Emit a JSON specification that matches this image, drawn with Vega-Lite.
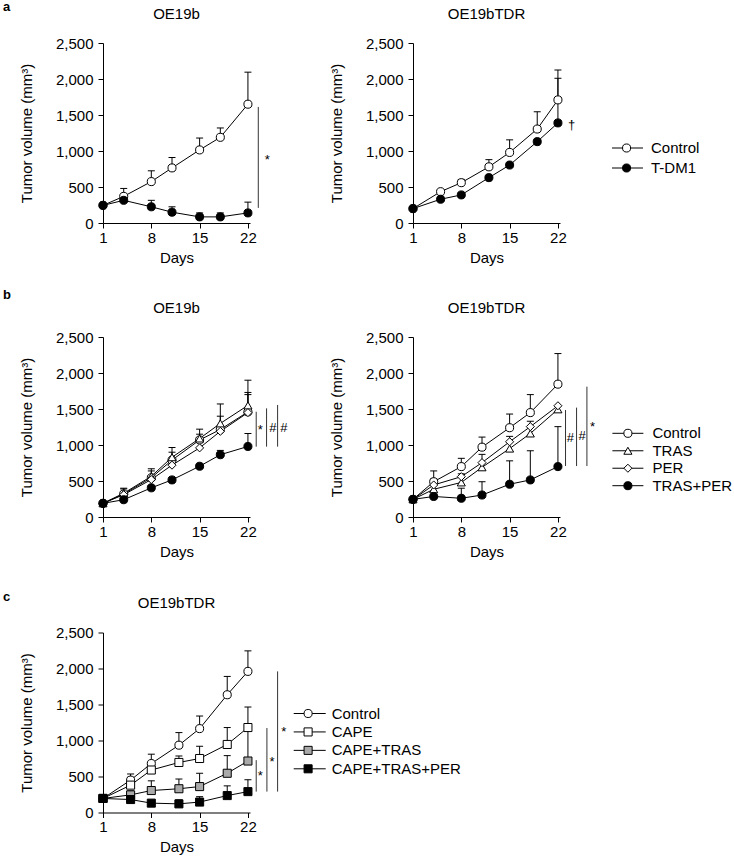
{
"$schema":"https://vega.github.io/schema/vega-lite/v6.json",
"padding":{"left":3,"top":0,"right":0,"bottom":0},
"background":"white",
"config":{
 "view":{"stroke":null},
 "font":"Liberation Sans",
 "axis":{"domainColor":"black","tickColor":"black","labelColor":"black","titleColor":"black","labelFont":"Liberation Sans","titleFont":"Liberation Sans","labelFontSize":15,"titleFontSize":15,"titleFontWeight":"normal","grid":false,"tickSize":5,"domainWidth":1,"tickWidth":1,"labelFlush":false,"labelOverlap":false},
 "axisX":{"labelPadding":2,"titlePadding":5},
 "axisY":{"labelPadding":5,"titlePadding":20.5},
 "title":{"font":"Liberation Sans","fontSize":15,"fontWeight":"normal","color":"black","offset":14.3},
 "text":{"font":"Liberation Sans"}
},
"datasets":{
 "tumor":[
  {"p":"a1","g":"Control","d":1,"m":245},{"p":"a1","g":"Control","d":4,"m":370,"u":480},{"p":"a1","g":"Control","d":8,"m":575,"u":725},{"p":"a1","g":"Control","d":11,"m":765,"u":910},{"p":"a1","g":"Control","d":15,"m":1015,"u":1180},{"p":"a1","g":"Control","d":18,"m":1190,"u":1320},{"p":"a1","g":"Control","d":22,"m":1650,"u":2095},
  {"p":"a1","g":"T-DM1","d":1,"m":245},{"p":"a1","g":"T-DM1","d":4,"m":315},{"p":"a1","g":"T-DM1","d":8,"m":225,"u":315},{"p":"a1","g":"T-DM1","d":11,"m":150,"u":225},{"p":"a1","g":"T-DM1","d":15,"m":85,"u":140},{"p":"a1","g":"T-DM1","d":18,"m":85,"u":140},{"p":"a1","g":"T-DM1","d":22,"m":140,"u":290},
  {"p":"a2","g":"Control","d":1,"m":200},{"p":"a2","g":"Control","d":5,"m":435},{"p":"a2","g":"Control","d":8,"m":560,"u":605},{"p":"a2","g":"Control","d":12,"m":780,"u":880},{"p":"a2","g":"Control","d":15,"m":980,"u":1155},{"p":"a2","g":"Control","d":19,"m":1305,"u":1545},{"p":"a2","g":"Control","d":22,"m":1710,"u":2125},
  {"p":"a2","g":"T-DM1","d":1,"m":200},{"p":"a2","g":"T-DM1","d":5,"m":330},{"p":"a2","g":"T-DM1","d":8,"m":390},{"p":"a2","g":"T-DM1","d":12,"m":630},{"p":"a2","g":"T-DM1","d":15,"m":805},{"p":"a2","g":"T-DM1","d":19,"m":1130},{"p":"a2","g":"T-DM1","d":22,"m":1390,"u":2010},
  {"p":"b1","g":"Control","d":1,"m":190},{"p":"b1","g":"Control","d":4,"m":320,"u":400},{"p":"b1","g":"Control","d":8,"m":545,"u":670},{"p":"b1","g":"Control","d":11,"m":790,"u":965},{"p":"b1","g":"Control","d":15,"m":1070,"u":1220},{"p":"b1","g":"Control","d":18,"m":1215,"u":1400},{"p":"b1","g":"Control","d":22,"m":1460,"u":1700},
  {"p":"b1","g":"TRAS","d":1,"m":190},{"p":"b1","g":"TRAS","d":4,"m":330,"u":390},{"p":"b1","g":"TRAS","d":8,"m":565,"u":640},{"p":"b1","g":"TRAS","d":11,"m":830,"u":900},{"p":"b1","g":"TRAS","d":15,"m":1090,"u":1150},{"p":"b1","g":"TRAS","d":18,"m":1300,"u":1570},{"p":"b1","g":"TRAS","d":22,"m":1550,"u":1900},
  {"p":"b1","g":"PER","d":1,"m":190},{"p":"b1","g":"PER","d":4,"m":310},{"p":"b1","g":"PER","d":8,"m":520},{"p":"b1","g":"PER","d":11,"m":720},{"p":"b1","g":"PER","d":15,"m":960},{"p":"b1","g":"PER","d":18,"m":1190},{"p":"b1","g":"PER","d":22,"m":1450,"u":1730},
  {"p":"b1","g":"TRAS+PER","d":1,"m":190},{"p":"b1","g":"TRAS+PER","d":4,"m":240},{"p":"b1","g":"TRAS+PER","d":8,"m":405},{"p":"b1","g":"TRAS+PER","d":11,"m":515},{"p":"b1","g":"TRAS+PER","d":15,"m":705},{"p":"b1","g":"TRAS+PER","d":18,"m":865,"u":925},{"p":"b1","g":"TRAS+PER","d":22,"m":980,"u":1160},
  {"p":"b2","g":"Control","d":1,"m":245},{"p":"b2","g":"Control","d":4,"m":490,"u":640},{"p":"b2","g":"Control","d":8,"m":700,"u":815},{"p":"b2","g":"Control","d":11,"m":970,"u":1110},{"p":"b2","g":"Control","d":15,"m":1240,"u":1430},{"p":"b2","g":"Control","d":18,"m":1450,"u":1700},{"p":"b2","g":"Control","d":22,"m":1845,"u":2270},
  {"p":"b2","g":"TRAS","d":1,"m":245},{"p":"b2","g":"TRAS","d":4,"m":385,"u":530},{"p":"b2","g":"TRAS","d":8,"m":480,"u":600},{"p":"b2","g":"TRAS","d":11,"m":690,"u":870},{"p":"b2","g":"TRAS","d":15,"m":950,"u":1120},{"p":"b2","g":"TRAS","d":18,"m":1160,"u":1330},{"p":"b2","g":"TRAS","d":22,"m":1495},
  {"p":"b2","g":"PER","d":1,"m":245},{"p":"b2","g":"PER","d":4,"m":445},{"p":"b2","g":"PER","d":8,"m":560},{"p":"b2","g":"PER","d":11,"m":755},{"p":"b2","g":"PER","d":15,"m":1045},{"p":"b2","g":"PER","d":18,"m":1255},{"p":"b2","g":"PER","d":22,"m":1545},
  {"p":"b2","g":"TRAS+PER","d":1,"m":245},{"p":"b2","g":"TRAS+PER","d":4,"m":285},{"p":"b2","g":"TRAS+PER","d":8,"m":260,"u":400},{"p":"b2","g":"TRAS+PER","d":11,"m":305,"u":490},{"p":"b2","g":"TRAS+PER","d":15,"m":455,"u":780},{"p":"b2","g":"TRAS+PER","d":18,"m":515,"u":920},{"p":"b2","g":"TRAS+PER","d":22,"m":700,"u":1255},
  {"p":"c","g":"Control","d":1,"m":195},{"p":"c","g":"Control","d":5,"m":450,"u":535},{"p":"c","g":"Control","d":8,"m":680,"u":810},{"p":"c","g":"Control","d":12,"m":935,"u":1110},{"p":"c","g":"Control","d":15,"m":1165,"u":1340},{"p":"c","g":"Control","d":19,"m":1635,"u":1890},{"p":"c","g":"Control","d":22,"m":1960,"u":2245},
  {"p":"c","g":"CAPE","d":1,"m":195},{"p":"c","g":"CAPE","d":5,"m":380,"u":490},{"p":"c","g":"CAPE","d":8,"m":590,"u":680},{"p":"c","g":"CAPE","d":12,"m":695,"u":785},{"p":"c","g":"CAPE","d":15,"m":750,"u":920},{"p":"c","g":"CAPE","d":19,"m":945,"u":1180},{"p":"c","g":"CAPE","d":22,"m":1180,"u":1465},
  {"p":"c","g":"CAPE+TRAS","d":1,"m":195},{"p":"c","g":"CAPE+TRAS","d":5,"m":245,"u":300},{"p":"c","g":"CAPE+TRAS","d":8,"m":305,"u":440},{"p":"c","g":"CAPE+TRAS","d":12,"m":330,"u":465},{"p":"c","g":"CAPE+TRAS","d":15,"m":360,"u":545},{"p":"c","g":"CAPE+TRAS","d":19,"m":545,"u":790},{"p":"c","g":"CAPE+TRAS","d":22,"m":715,"u":1180},
  {"p":"c","g":"CAPE+TRAS+PER","d":1,"m":195},{"p":"c","g":"CAPE+TRAS+PER","d":5,"m":180},{"p":"c","g":"CAPE+TRAS+PER","d":8,"m":130},{"p":"c","g":"CAPE+TRAS+PER","d":12,"m":120,"u":175},{"p":"c","g":"CAPE+TRAS+PER","d":15,"m":145,"u":220},{"p":"c","g":"CAPE+TRAS+PER","d":19,"m":235,"u":370},{"p":"c","g":"CAPE+TRAS+PER","d":22,"m":290,"u":455}
 ],
 "sig":[
  {"p":"a1","d":23.5,"y":210,"y2":1612},
  {"p":"b1","d":23.2,"y":977,"y2":1462},{"p":"b1","d":24.7,"y":977,"y2":1509},{"p":"b1","d":26.3,"y":977,"y2":1556},
  {"p":"b2","d":23.1,"y":708,"y2":1486},{"p":"b2","d":24.7,"y":708,"y2":1519},{"p":"b2","d":26.2,"y":708,"y2":1810},
  {"p":"c","d":23.2,"y":290,"y2":727},{"p":"c","d":24.75,"y":290,"y2":1173},{"p":"c","d":26.3,"y":290,"y2":1960}
 ],
 "siglab":[
  {"p":"a1","d":24.8,"y":874,"t":"*"},
  {"p":"a2","d":24.0,"y":1355,"t":"†"},
  {"p":"b1","d":23.8,"y":1208,"t":"*"},{"p":"b1","d":25.6,"y":1232,"t":"#"},{"p":"b1","d":27.2,"y":1232,"t":"#"},
  {"p":"b2","d":23.8,"y":1093,"t":"#"},{"p":"b2","d":25.5,"y":1120,"t":"#"},{"p":"b2","d":27.0,"y":1245,"t":"*"},
  {"p":"c","d":23.8,"y":511,"t":"*"},{"p":"c","d":25.5,"y":695,"t":"*"},{"p":"c","d":27.2,"y":1118,"t":"*"}
 ]
},
"spacing":31.5,
"vconcat":[
 {"spacing":23,
  "vconcat":[
 {"title":{"text":"a","anchor":"start","frame":"group","fontWeight":"bold","fontSize":13,"dx":-100,"offset":-6.8},
  "bounds":"flush","spacing":163,
  "hconcat":[
   {"width":147,"height":180,"title":"OE19b",
    "layer":[
     {"data":{"name":"tumor"},"transform":[{"filter":"datum.p==='a1' && isValid(datum.u)"}],"mark":{"type":"rule","color":"black","strokeWidth":1},
      "encoding":{"x":{"field":"d","type":"quantitative","scale":{"domain":[1,22.3],"nice":false,"zero":false},"axis":{"values":[1,8,15,22],"title":"Days"}},"y":{"field":"m","type":"quantitative","scale":{"domain":[0,2500],"nice":false},"axis":{"values":[0,500,1000,1500,2000,2500],"format":",d","title":"Tumor volume (mm³)"}},"y2":{"field":"u"}}},
     {"data":{"name":"tumor"},"transform":[{"filter":"datum.p==='a1' && isValid(datum.u)"}],"mark":{"type":"tick","orient":"horizontal","color":"black","size":7,"thickness":1,"opacity":1},
      "encoding":{"x":{"field":"d","type":"quantitative","axis":{"values":[1,8,15,22],"title":"Days"}},"y":{"field":"u","type":"quantitative","axis":{"values":[0,500,1000,1500,2000,2500],"format":",d","title":"Tumor volume (mm³)"}}}},
     {"data":{"name":"tumor"},"transform":[{"filter":"datum.p==='a1'"}],"mark":{"type":"line","color":"black","strokeWidth":1},
      "encoding":{"x":{"field":"d","type":"quantitative","axis":{"values":[1,8,15,22],"title":"Days"}},"y":{"field":"m","type":"quantitative","axis":{"values":[0,500,1000,1500,2000,2500],"format":",d","title":"Tumor volume (mm³)"}},"detail":{"field":"g"},"order":{"field":"d"}}},
     {"data":{"name":"tumor"},"transform":[{"filter":"datum.p==='a1'"}],"mark":{"type":"point","stroke":"black","strokeWidth":1,"opacity":1,"size":65},
      "encoding":{"x":{"field":"d","type":"quantitative","axis":{"values":[1,8,15,22],"title":"Days"}},"y":{"field":"m","type":"quantitative","axis":{"values":[0,500,1000,1500,2000,2500],"format":",d","title":"Tumor volume (mm³)"}},
       "shape":{"field":"g","type":"nominal","legend":null,"scale":{"domain":["Control","T-DM1","TRAS","PER","TRAS+PER","CAPE","CAPE+TRAS","CAPE+TRAS+PER"],"range":["circle","circle","triangle-up","diamond","circle","square","square","square"]}},
       "fill":{"field":"g","type":"nominal","legend":null,"scale":{"domain":["Control","T-DM1","TRAS","PER","TRAS+PER","CAPE","CAPE+TRAS","CAPE+TRAS+PER"],"range":["white","black","white","white","black","white","#a9a9a9","black"]}}}},
     {"data":{"name":"sig"},"transform":[{"filter":"datum.p==='a1'"}],"mark":{"type":"rule","color":"#333","strokeWidth":1},
      "encoding":{"x":{"field":"d","type":"quantitative","axis":{"values":[1,8,15,22],"title":"Days"}},"y":{"field":"y","type":"quantitative","axis":{"values":[0,500,1000,1500,2000,2500],"format":",d","title":"Tumor volume (mm³)"}},"y2":{"field":"y2"}}},
     {"data":{"name":"siglab"},"transform":[{"filter":"datum.p==='a1'"}],"mark":{"type":"text","fontSize":13,"baseline":"middle","align":"center","color":"black"},
      "encoding":{"x":{"field":"d","type":"quantitative","axis":{"values":[1,8,15,22],"title":"Days"}},"y":{"field":"y","type":"quantitative","axis":{"values":[0,500,1000,1500,2000,2500],"format":",d","title":"Tumor volume (mm³)"}},"text":{"field":"t"}}}
    ]},
   {"bounds":"flush","spacing":52,
    "hconcat":[
     {"width":147,"height":180,"title":"OE19bTDR",
      "layer":[
       {"data":{"name":"tumor"},"transform":[{"filter":"datum.p==='a2' && isValid(datum.u)"}],"mark":{"type":"rule","color":"black","strokeWidth":1},
        "encoding":{"x":{"field":"d","type":"quantitative","scale":{"domain":[1,22.3],"nice":false,"zero":false},"axis":{"values":[1,8,15,22],"title":"Days"}},"y":{"field":"m","type":"quantitative","scale":{"domain":[0,2500],"nice":false},"axis":{"values":[0,500,1000,1500,2000,2500],"format":",d","title":"Tumor volume (mm³)"}},"y2":{"field":"u"}}},
       {"data":{"name":"tumor"},"transform":[{"filter":"datum.p==='a2' && isValid(datum.u)"}],"mark":{"type":"tick","orient":"horizontal","color":"black","size":7,"thickness":1,"opacity":1},
        "encoding":{"x":{"field":"d","type":"quantitative","axis":{"values":[1,8,15,22],"title":"Days"}},"y":{"field":"u","type":"quantitative","axis":{"values":[0,500,1000,1500,2000,2500],"format":",d","title":"Tumor volume (mm³)"}}}},
       {"data":{"name":"tumor"},"transform":[{"filter":"datum.p==='a2'"}],"mark":{"type":"line","color":"black","strokeWidth":1},
        "encoding":{"x":{"field":"d","type":"quantitative","axis":{"values":[1,8,15,22],"title":"Days"}},"y":{"field":"m","type":"quantitative","axis":{"values":[0,500,1000,1500,2000,2500],"format":",d","title":"Tumor volume (mm³)"}},"detail":{"field":"g"},"order":{"field":"d"}}},
       {"data":{"name":"tumor"},"transform":[{"filter":"datum.p==='a2'"}],"mark":{"type":"point","stroke":"black","strokeWidth":1,"opacity":1,"size":65},
        "encoding":{"x":{"field":"d","type":"quantitative","axis":{"values":[1,8,15,22],"title":"Days"}},"y":{"field":"m","type":"quantitative","axis":{"values":[0,500,1000,1500,2000,2500],"format":",d","title":"Tumor volume (mm³)"}},
         "shape":{"field":"g","type":"nominal","legend":null,"scale":{"domain":["Control","T-DM1","TRAS","PER","TRAS+PER","CAPE","CAPE+TRAS","CAPE+TRAS+PER"],"range":["circle","circle","triangle-up","diamond","circle","square","square","square"]}},
         "fill":{"field":"g","type":"nominal","legend":null,"scale":{"domain":["Control","T-DM1","TRAS","PER","TRAS+PER","CAPE","CAPE+TRAS","CAPE+TRAS+PER"],"range":["white","black","white","white","black","white","#a9a9a9","black"]}}}},
       {"data":{"name":"siglab"},"transform":[{"filter":"datum.p==='a2'"}],"mark":{"type":"text","fontSize":13,"baseline":"middle","align":"center","color":"black"},
        "encoding":{"x":{"field":"d","type":"quantitative","axis":{"values":[1,8,15,22],"title":"Days"}},"y":{"field":"y","type":"quantitative","axis":{"values":[0,500,1000,1500,2000,2500],"format":",d","title":"Tumor volume (mm³)"}},"text":{"field":"t"}}}
      ]},
     {"width":31,"height":180,
      "data":{"values":[{"g":"Control"},{"g":"T-DM1"}]},
      "layer":[
       {"mark":{"type":"rule","color":"black","strokeWidth":1},
        "encoding":{"x":{"datum":0,"type":"quantitative","scale":{"domain":[0,1]},"axis":null},"x2":{"datum":1},"y":{"field":"g","type":"nominal","scale":{"type":"point","padding":0,"domain":["Control","T-DM1"],"range":[105,125]},"axis":null}}},
       {"mark":{"type":"point","stroke":"black","strokeWidth":1,"opacity":1,"size":65},
        "encoding":{"x":{"datum":0.47,"type":"quantitative"},"y":{"field":"g","type":"nominal"},
         "shape":{"field":"g","type":"nominal","legend":null,"scale":{"domain":["Control","T-DM1","TRAS","PER","TRAS+PER","CAPE","CAPE+TRAS","CAPE+TRAS+PER"],"range":["circle","circle","triangle-up","diamond","circle","square","square","square"]}},
         "fill":{"field":"g","type":"nominal","legend":null,"scale":{"domain":["Control","T-DM1","TRAS","PER","TRAS+PER","CAPE","CAPE+TRAS","CAPE+TRAS+PER"],"range":["white","black","white","white","black","white","#a9a9a9","black"]}}}},
       {"mark":{"type":"text","align":"left","baseline":"middle","dx":8,"fontSize":15,"color":"black"},
        "encoding":{"x":{"datum":1,"type":"quantitative"},"y":{"field":"g","type":"nominal"},"text":{"field":"g"}}}
      ]}
    ]}
  ]},
 {"title":{"text":"b","anchor":"start","frame":"group","fontWeight":"bold","fontSize":13,"dx":-100,"offset":-0.8},
  "bounds":"flush","spacing":163,
  "hconcat":[
   {"width":147,"height":180,"title":"OE19b",
    "layer":[
     {"data":{"name":"tumor"},"transform":[{"filter":"datum.p==='b1' && isValid(datum.u)"}],"mark":{"type":"rule","color":"black","strokeWidth":1},
      "encoding":{"x":{"field":"d","type":"quantitative","scale":{"domain":[1,22.3],"nice":false,"zero":false},"axis":{"values":[1,8,15,22],"title":"Days"}},"y":{"field":"m","type":"quantitative","scale":{"domain":[0,2500],"nice":false},"axis":{"values":[0,500,1000,1500,2000,2500],"format":",d","title":"Tumor volume (mm³)"}},"y2":{"field":"u"}}},
     {"data":{"name":"tumor"},"transform":[{"filter":"datum.p==='b1' && isValid(datum.u)"}],"mark":{"type":"tick","orient":"horizontal","color":"black","size":7,"thickness":1,"opacity":1},
      "encoding":{"x":{"field":"d","type":"quantitative","axis":{"values":[1,8,15,22],"title":"Days"}},"y":{"field":"u","type":"quantitative","axis":{"values":[0,500,1000,1500,2000,2500],"format":",d","title":"Tumor volume (mm³)"}}}},
     {"data":{"name":"tumor"},"transform":[{"filter":"datum.p==='b1'"}],"mark":{"type":"line","color":"black","strokeWidth":1},
      "encoding":{"x":{"field":"d","type":"quantitative","axis":{"values":[1,8,15,22],"title":"Days"}},"y":{"field":"m","type":"quantitative","axis":{"values":[0,500,1000,1500,2000,2500],"format":",d","title":"Tumor volume (mm³)"}},"detail":{"field":"g"},"order":{"field":"d"}}},
     {"data":{"name":"tumor"},"transform":[{"filter":"datum.p==='b1'"}],"mark":{"type":"point","stroke":"black","strokeWidth":1,"opacity":1,"size":65},
      "encoding":{"x":{"field":"d","type":"quantitative","axis":{"values":[1,8,15,22],"title":"Days"}},"y":{"field":"m","type":"quantitative","axis":{"values":[0,500,1000,1500,2000,2500],"format":",d","title":"Tumor volume (mm³)"}},
       "shape":{"field":"g","type":"nominal","legend":null,"scale":{"domain":["Control","T-DM1","TRAS","PER","TRAS+PER","CAPE","CAPE+TRAS","CAPE+TRAS+PER"],"range":["circle","circle","triangle-up","diamond","circle","square","square","square"]}},
       "fill":{"field":"g","type":"nominal","legend":null,"scale":{"domain":["Control","T-DM1","TRAS","PER","TRAS+PER","CAPE","CAPE+TRAS","CAPE+TRAS+PER"],"range":["white","black","white","white","black","white","#a9a9a9","black"]}}}},
     {"data":{"name":"sig"},"transform":[{"filter":"datum.p==='b1'"}],"mark":{"type":"rule","color":"#333","strokeWidth":1},
      "encoding":{"x":{"field":"d","type":"quantitative","axis":{"values":[1,8,15,22],"title":"Days"}},"y":{"field":"y","type":"quantitative","axis":{"values":[0,500,1000,1500,2000,2500],"format":",d","title":"Tumor volume (mm³)"}},"y2":{"field":"y2"}}},
     {"data":{"name":"siglab"},"transform":[{"filter":"datum.p==='b1'"}],"mark":{"type":"text","fontSize":13,"baseline":"middle","align":"center","color":"black"},
      "encoding":{"x":{"field":"d","type":"quantitative","axis":{"values":[1,8,15,22],"title":"Days"}},"y":{"field":"y","type":"quantitative","axis":{"values":[0,500,1000,1500,2000,2500],"format":",d","title":"Tumor volume (mm³)"}},"text":{"field":"t"}}}
    ]},
   {"bounds":"flush","spacing":52.4,
    "hconcat":[
     {"width":147,"height":180,"title":"OE19bTDR",
      "layer":[
       {"data":{"name":"tumor"},"transform":[{"filter":"datum.p==='b2' && isValid(datum.u)"}],"mark":{"type":"rule","color":"black","strokeWidth":1},
        "encoding":{"x":{"field":"d","type":"quantitative","scale":{"domain":[1,22.3],"nice":false,"zero":false},"axis":{"values":[1,8,15,22],"title":"Days"}},"y":{"field":"m","type":"quantitative","scale":{"domain":[0,2500],"nice":false},"axis":{"values":[0,500,1000,1500,2000,2500],"format":",d","title":"Tumor volume (mm³)"}},"y2":{"field":"u"}}},
       {"data":{"name":"tumor"},"transform":[{"filter":"datum.p==='b2' && isValid(datum.u)"}],"mark":{"type":"tick","orient":"horizontal","color":"black","size":7,"thickness":1,"opacity":1},
        "encoding":{"x":{"field":"d","type":"quantitative","axis":{"values":[1,8,15,22],"title":"Days"}},"y":{"field":"u","type":"quantitative","axis":{"values":[0,500,1000,1500,2000,2500],"format":",d","title":"Tumor volume (mm³)"}}}},
       {"data":{"name":"tumor"},"transform":[{"filter":"datum.p==='b2'"}],"mark":{"type":"line","color":"black","strokeWidth":1},
        "encoding":{"x":{"field":"d","type":"quantitative","axis":{"values":[1,8,15,22],"title":"Days"}},"y":{"field":"m","type":"quantitative","axis":{"values":[0,500,1000,1500,2000,2500],"format":",d","title":"Tumor volume (mm³)"}},"detail":{"field":"g"},"order":{"field":"d"}}},
       {"data":{"name":"tumor"},"transform":[{"filter":"datum.p==='b2'"}],"mark":{"type":"point","stroke":"black","strokeWidth":1,"opacity":1,"size":65},
        "encoding":{"x":{"field":"d","type":"quantitative","axis":{"values":[1,8,15,22],"title":"Days"}},"y":{"field":"m","type":"quantitative","axis":{"values":[0,500,1000,1500,2000,2500],"format":",d","title":"Tumor volume (mm³)"}},
         "shape":{"field":"g","type":"nominal","legend":null,"scale":{"domain":["Control","T-DM1","TRAS","PER","TRAS+PER","CAPE","CAPE+TRAS","CAPE+TRAS+PER"],"range":["circle","circle","triangle-up","diamond","circle","square","square","square"]}},
         "fill":{"field":"g","type":"nominal","legend":null,"scale":{"domain":["Control","T-DM1","TRAS","PER","TRAS+PER","CAPE","CAPE+TRAS","CAPE+TRAS+PER"],"range":["white","black","white","white","black","white","#a9a9a9","black"]}}}},
       {"data":{"name":"sig"},"transform":[{"filter":"datum.p==='b2'"}],"mark":{"type":"rule","color":"#333","strokeWidth":1},
        "encoding":{"x":{"field":"d","type":"quantitative","axis":{"values":[1,8,15,22],"title":"Days"}},"y":{"field":"y","type":"quantitative","axis":{"values":[0,500,1000,1500,2000,2500],"format":",d","title":"Tumor volume (mm³)"}},"y2":{"field":"y2"}}},
       {"data":{"name":"siglab"},"transform":[{"filter":"datum.p==='b2'"}],"mark":{"type":"text","fontSize":13,"baseline":"middle","align":"center","color":"black"},
        "encoding":{"x":{"field":"d","type":"quantitative","axis":{"values":[1,8,15,22],"title":"Days"}},"y":{"field":"y","type":"quantitative","axis":{"values":[0,500,1000,1500,2000,2500],"format":",d","title":"Tumor volume (mm³)"}},"text":{"field":"t"}}}
      ]},
     {"width":31,"height":180,
      "data":{"values":[{"g":"Control"},{"g":"TRAS"},{"g":"PER"},{"g":"TRAS+PER"}]},
      "layer":[
       {"mark":{"type":"rule","color":"black","strokeWidth":1},
        "encoding":{"x":{"datum":0,"type":"quantitative","scale":{"domain":[0,1]},"axis":null},"x2":{"datum":1},"y":{"field":"g","type":"nominal","scale":{"type":"point","padding":0,"domain":["Control","TRAS","PER","TRAS+PER"],"range":[96.3,148.7]},"axis":null}}},
       {"mark":{"type":"point","stroke":"black","strokeWidth":1,"opacity":1,"size":65},
        "encoding":{"x":{"datum":0.5,"type":"quantitative"},"y":{"field":"g","type":"nominal"},
         "shape":{"field":"g","type":"nominal","legend":null,"scale":{"domain":["Control","T-DM1","TRAS","PER","TRAS+PER","CAPE","CAPE+TRAS","CAPE+TRAS+PER"],"range":["circle","circle","triangle-up","diamond","circle","square","square","square"]}},
         "fill":{"field":"g","type":"nominal","legend":null,"scale":{"domain":["Control","T-DM1","TRAS","PER","TRAS+PER","CAPE","CAPE+TRAS","CAPE+TRAS+PER"],"range":["white","black","white","white","black","white","#a9a9a9","black"]}}}},
       {"mark":{"type":"text","align":"left","baseline":"middle","dx":9,"fontSize":15,"color":"black"},
        "encoding":{"x":{"datum":1,"type":"quantitative"},"y":{"field":"g","type":"nominal"},"text":{"field":"g"}}}
      ]}
    ]}
  ]}
  ]},
 {"title":{"text":"c","anchor":"start","frame":"group","fontWeight":"bold","fontSize":13,"dx":-100,"offset":-8.2},
  "bounds":"flush","spacing":43.7,
  "hconcat":[
   {"width":147,"height":180,"title":"OE19bTDR",
    "layer":[
     {"data":{"name":"tumor"},"transform":[{"filter":"datum.p==='c' && isValid(datum.u)"}],"mark":{"type":"rule","color":"black","strokeWidth":1},
      "encoding":{"x":{"field":"d","type":"quantitative","scale":{"domain":[1,22.3],"nice":false,"zero":false},"axis":{"values":[1,8,15,22],"title":"Days"}},"y":{"field":"m","type":"quantitative","scale":{"domain":[0,2500],"nice":false},"axis":{"values":[0,500,1000,1500,2000,2500],"format":",d","title":"Tumor volume (mm³)"}},"y2":{"field":"u"}}},
     {"data":{"name":"tumor"},"transform":[{"filter":"datum.p==='c' && isValid(datum.u)"}],"mark":{"type":"tick","orient":"horizontal","color":"black","size":7,"thickness":1,"opacity":1},
      "encoding":{"x":{"field":"d","type":"quantitative","axis":{"values":[1,8,15,22],"title":"Days"}},"y":{"field":"u","type":"quantitative","axis":{"values":[0,500,1000,1500,2000,2500],"format":",d","title":"Tumor volume (mm³)"}}}},
     {"data":{"name":"tumor"},"transform":[{"filter":"datum.p==='c'"}],"mark":{"type":"line","color":"black","strokeWidth":1},
      "encoding":{"x":{"field":"d","type":"quantitative","axis":{"values":[1,8,15,22],"title":"Days"}},"y":{"field":"m","type":"quantitative","axis":{"values":[0,500,1000,1500,2000,2500],"format":",d","title":"Tumor volume (mm³)"}},"detail":{"field":"g"},"order":{"field":"d"}}},
     {"data":{"name":"tumor"},"transform":[{"filter":"datum.p==='c'"}],"mark":{"type":"point","stroke":"black","strokeWidth":1,"opacity":1,"size":65},
      "encoding":{"x":{"field":"d","type":"quantitative","axis":{"values":[1,8,15,22],"title":"Days"}},"y":{"field":"m","type":"quantitative","axis":{"values":[0,500,1000,1500,2000,2500],"format":",d","title":"Tumor volume (mm³)"}},
       "shape":{"field":"g","type":"nominal","legend":null,"scale":{"domain":["Control","T-DM1","TRAS","PER","TRAS+PER","CAPE","CAPE+TRAS","CAPE+TRAS+PER"],"range":["circle","circle","triangle-up","diamond","circle","square","square","square"]}},
       "fill":{"field":"g","type":"nominal","legend":null,"scale":{"domain":["Control","T-DM1","TRAS","PER","TRAS+PER","CAPE","CAPE+TRAS","CAPE+TRAS+PER"],"range":["white","black","white","white","black","white","#a9a9a9","black"]}}}},
     {"data":{"name":"sig"},"transform":[{"filter":"datum.p==='c'"}],"mark":{"type":"rule","color":"#333","strokeWidth":1},
      "encoding":{"x":{"field":"d","type":"quantitative","axis":{"values":[1,8,15,22],"title":"Days"}},"y":{"field":"y","type":"quantitative","axis":{"values":[0,500,1000,1500,2000,2500],"format":",d","title":"Tumor volume (mm³)"}},"y2":{"field":"y2"}}},
     {"data":{"name":"siglab"},"transform":[{"filter":"datum.p==='c'"}],"mark":{"type":"text","fontSize":13,"baseline":"middle","align":"center","color":"black"},
      "encoding":{"x":{"field":"d","type":"quantitative","axis":{"values":[1,8,15,22],"title":"Days"}},"y":{"field":"y","type":"quantitative","axis":{"values":[0,500,1000,1500,2000,2500],"format":",d","title":"Tumor volume (mm³)"}},"text":{"field":"t"}}}
    ]},
   {"width":32,"height":180,
    "data":{"values":[{"g":"Control"},{"g":"CAPE"},{"g":"CAPE+TRAS"},{"g":"CAPE+TRAS+PER"}]},
    "layer":[
     {"mark":{"type":"rule","color":"black","strokeWidth":1},
      "encoding":{"x":{"datum":0,"type":"quantitative","scale":{"domain":[0,1]},"axis":null},"x2":{"datum":1},"y":{"field":"g","type":"nominal","scale":{"type":"point","padding":0,"domain":["Control","CAPE","CAPE+TRAS","CAPE+TRAS+PER"],"range":[81,136.3]},"axis":null}}},
     {"mark":{"type":"point","stroke":"black","strokeWidth":1,"opacity":1,"size":65},
      "encoding":{"x":{"datum":0.45,"type":"quantitative"},"y":{"field":"g","type":"nominal"},
       "shape":{"field":"g","type":"nominal","legend":null,"scale":{"domain":["Control","T-DM1","TRAS","PER","TRAS+PER","CAPE","CAPE+TRAS","CAPE+TRAS+PER"],"range":["circle","circle","triangle-up","diamond","circle","square","square","square"]}},
       "fill":{"field":"g","type":"nominal","legend":null,"scale":{"domain":["Control","T-DM1","TRAS","PER","TRAS+PER","CAPE","CAPE+TRAS","CAPE+TRAS+PER"],"range":["white","black","white","white","black","white","#a9a9a9","black"]}}}},
     {"mark":{"type":"text","align":"left","baseline":"middle","dx":6,"fontSize":15,"color":"black"},
      "encoding":{"x":{"datum":1,"type":"quantitative"},"y":{"field":"g","type":"nominal"},"text":{"field":"g"}}}
    ]}
  ]}
]
}
